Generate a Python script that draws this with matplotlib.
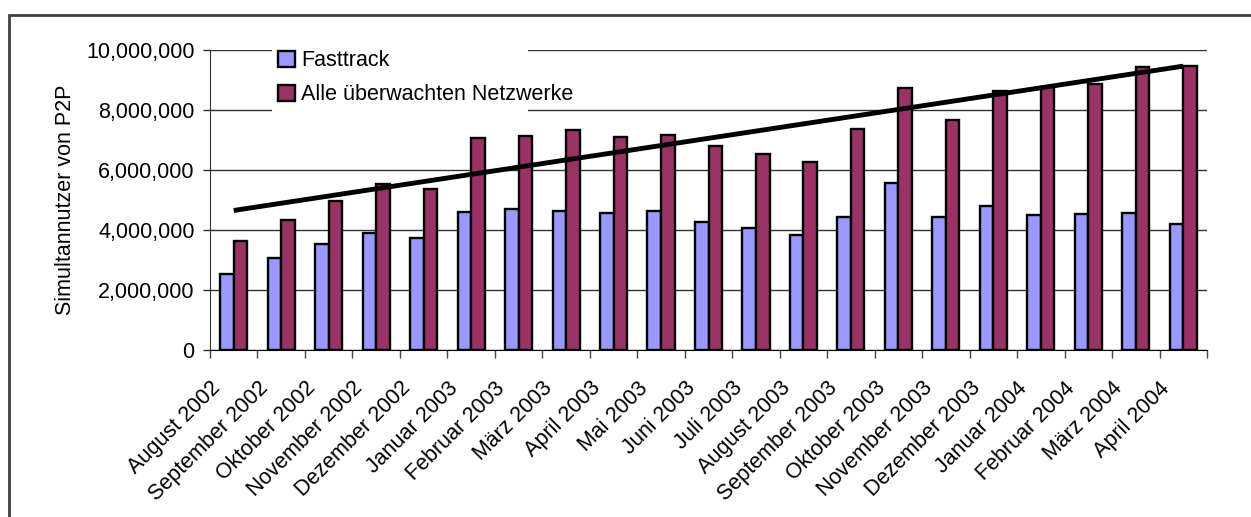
import numpy as np
import matplotlib
matplotlib.use("Agg")
import matplotlib.pyplot as plt
import matplotlib.transforms as mtransforms
from matplotlib.patches import Rectangle
from matplotlib.ticker import FuncFormatter, MultipleLocator

months = ["August 2002", "September 2002", "Oktober 2002", "November 2002",
          "Dezember 2002", "Januar 2003", "Februar 2003", "März 2003",
          "April 2003", "Mai 2003", "Juni 2003", "Juli 2003", "August 2003",
          "September 2003", "Oktober 2003", "November 2003", "Dezember 2003",
          "Januar 2004", "Februar 2004", "März 2004", "April 2004"]

# values in millions of simultaneous users
fasttrack = [2.53, 3.08, 3.53, 3.91, 3.74, 4.60, 4.69, 4.64, 4.58, 4.64, 4.28,
             4.06, 3.82, 4.44, 5.58, 4.44, 4.81, 4.49, 4.52, 4.58, 4.21]
alle_netze = [3.62, 4.34, 4.97, 5.53, 5.36, 7.08, 7.13, 7.32, 7.10, 7.18, 6.80,
              6.52, 6.28, 7.37, 8.72, 7.67, 8.64, 8.77, 8.88, 9.44, 9.47]

plt.rcParams['font.family'] = ['Liberation Sans', 'DejaVu Sans']
FS = 15.5

W, H = 1251, 517
fig = plt.figure(figsize=(W / 100, H / 100), dpi=100)
ax = fig.add_axes([210 / W, 1 - 350 / H, 997 / W, 300 / H])

x = np.arange(len(months))
fast = np.array(fasttrack) * 1e6
alle = np.array(alle_netze) * 1e6
bw = 1 / 3.5

ax.bar(x - bw / 2, fast, bw, color='#9999FF', edgecolor='black', linewidth=1.7,
       label='Fasttrack', zorder=3)
ax.bar(x + bw / 2, alle, bw, color='#993366', edgecolor='black', linewidth=1.7,
       label='Alle überwachten Netzwerke', zorder=3)

# linear trend of all networks
k, d = np.polyfit(x, alle, 1)
ax.plot([x[0], x[-1]], [d + k * x[0], d + k * x[-1]], color='black', lw=3.5,
        solid_capstyle='butt', zorder=4)

ax.set_xlim(-0.5, len(months) - 0.5)
ax.set_ylim(0, 10e6)
ax.yaxis.set_major_locator(MultipleLocator(2e6))
ax.yaxis.set_major_formatter(FuncFormatter(lambda v, p: f"{int(v):,}"))
ax.grid(axis='y', color='#333333', lw=1)

for s in ['top', 'right']:
    ax.spines[s].set_visible(False)
ax.spines['left'].set_color('#333333')
ax.spines['bottom'].set_color('black')

ax.tick_params(axis='y', length=5, width=1, labelsize=FS, pad=6, color='#333333')
ax.set_xticks(x)
ax.set_xticks(np.arange(-0.5, len(months)), minor=True)
ax.tick_params(axis='x', which='major', length=0, pad=20, labelsize=FS)
ax.tick_params(axis='x', which='minor', length=6, width=1, color='#444444')
ax.set_xticklabels(months, rotation=45, ha='right', va='top')
shift = mtransforms.ScaledTranslation(-9 / 100, 0, fig.dpi_scale_trans)
for lab in ax.get_xticklabels():
    lab.set_transform(lab.get_transform() + shift)

ax.set_ylabel("Simultannutzer von P2P", fontsize=FS, va='center')
ax.yaxis.set_label_coords(-0.1454, 0.5)

# white legend area hiding the gridlines behind it
ax.add_patch(Rectangle((272 / W, 1 - 120 / H), 256 / W, 82 / H,
                       transform=fig.transFigure, facecolor='white',
                       edgecolor='none', zorder=2, clip_on=False))
leg = ax.legend(loc='upper left', bbox_to_anchor=(272 / W, 1 - 44 / H),
                bbox_transform=fig.transFigure, frameon=False,
                fontsize=FS, handlelength=0.75, handleheight=0.75,
                handletextpad=0.3, labelspacing=0.6, borderpad=0.3,
                borderaxespad=0)
leg.set_zorder(5)

# outer chart frame (left and top edges)
fig.add_artist(Rectangle((9 / W, -0.2), 1.2, 1.2 - 15 / H, transform=fig.transFigure,
                         fill=False, edgecolor='#404040', lw=2, clip_on=False))

fig.savefig("out.png", dpi=100)
